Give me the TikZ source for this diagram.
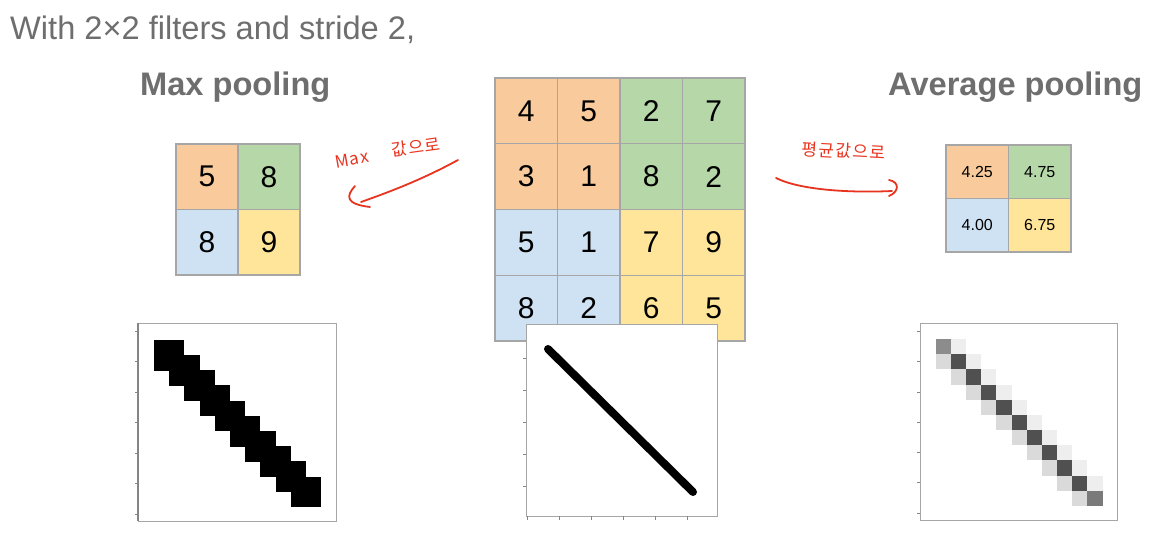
\documentclass[tikz,border=0pt]{standalone}
\usepackage{fontspec}
\setmainfont{Liberation Sans}
\newfontfamily\cjk{Noto Sans CJK KR}[LetterSpace=8]
\definecolor{corange}{HTML}{F9CB9C}
\definecolor{cgreen}{HTML}{B6D7A8}
\definecolor{cblue}{HTML}{CFE2F3}
\definecolor{cyellow}{HTML}{FFE599}
\definecolor{gridgray}{HTML}{A6A6A6}
\definecolor{txtgray}{HTML}{6E6E6E}
\definecolor{pen}{HTML}{E8341F}
\definecolor{pdark}{HTML}{505050}
\definecolor{pmid}{HTML}{8C8C8C}
\definecolor{pend}{HTML}{7A7A7A}
\definecolor{plow}{HTML}{DADADA}
\definecolor{pup}{HTML}{EEEEEE}
\begin{document}
\begin{tikzpicture}[x=1pt,y=-1pt,
  cell/.style={draw=gridgray,line width=1.3pt,inner sep=0pt,font=\fontsize{30}{36}\selectfont},
  bigcell/.style={cell,minimum width=62.5pt,minimum height=65.75pt},
  maxcell/.style={cell,minimum width=62pt,minimum height=65.5pt},
  avgcell/.style={cell,minimum width=62.5pt,minimum height=53.5pt,font=\fontsize{16}{19}\selectfont},
  title/.style={text=txtgray,inner sep=0pt,anchor=base west,font=\fontsize{32.6}{38}\selectfont},
  btitle/.style={title,font=\fontsize{32.6}{38}\selectfont\bfseries},
  frame/.style={draw=gridgray,line width=0.9pt,fill=white},
  tick/.style={draw=gridgray!80!black,line width=0.8pt},
  hand/.style={draw=pen,line width=1.8pt,line cap=round,line join=round},
  handtxt/.style={text=pen,inner sep=0pt,font=\cjk\fontsize{17}{20}\selectfont}]
\useasboundingbox (0,0) rectangle (1163,533);
\fill[white] (0,0) rectangle (1163,533);

% titles
\node[title] (t1) at (10,39) {With 2×2 filters and stride 2,};
\node[btitle] (t2) at (140,95.3) {Max pooling};
\node[btitle] (t3) at (888,95.3) {Average pooling};

% main 4x4 grid
\foreach \r/\c/\v/\f in {0/0/4/corange,0/1/5/corange,0/2/2/cgreen,0/3/7/cgreen,
  1/0/3/corange,1/1/1/corange,1/2/8/cgreen,1/3/2/cgreen,
  2/0/5/cblue,2/1/1/cblue,2/2/7/cyellow,2/3/9/cyellow,
  3/0/8/cblue,3/1/2/cblue,3/2/6/cyellow,3/3/5/cyellow}
  \node[bigcell,fill=\f] (m\r\c) at ({526.25+62.5*\c},{110.875+65.75*\r}) {\v};

% max pooling grid
\foreach \r/\c/\v/\f in {0/0/5/corange,0/1/8/cgreen,1/0/8/cblue,1/1/9/cyellow}
  \node[maxcell,fill=\f] (x\r\c) at ({207+62*\c},{176.75+65.5*\r}) {\v};

% average pooling grid
\foreach \r/\c/\v/\f in {0/0/4.25/corange,0/1/4.75/cgreen,1/0/4.00/cblue,1/1/6.75/cyellow}
  \node[avgcell,fill=\f] (a\r\c) at ({977.25+62.5*\c},{171.75+53.5*\r}) {\v};

% handwritten notes
\node[handtxt,rotate=10] (n1a) at (352,159) {Max};
\node[handtxt,rotate=8] (n1b) at (416,147) {값으로};
\node[handtxt,rotate=-3] (n2) at (844,151) {평균값으로};
\coordinate (l1) at (458,160);
\coordinate (l2) at (361,202);
\draw[hand] (l1) .. controls (425,178) and (395,190) .. (l2);
\draw[hand] (355,186) .. controls (346,196) and (345,204) .. (370,207);
\coordinate (r1) at (776,178);
\coordinate (r2) at (892,191);
\draw[hand] (r1) .. controls (800,190) and (850,193) .. (r2);
\draw[hand] (889,180) .. controls (900,182) and (899,192) .. (889,196);

% left plot (max pooled image)
\draw[frame] (138,323) rectangle (336,521);
\draw[tick,line width=1.2pt] (138,323) -- (138,521);
\foreach \y in {331,361.5,392,422.5,453,483.5,514}
  \draw[tick] (135,\y) -- (138,\y);
\foreach \r in {0,...,10}{
  \pgfmathtruncatemacro{\ca}{max(0,\r-1)}
  \pgfmathtruncatemacro{\cb}{min(10,\r+1)+1}
  \fill[black] ({154+15.2*\ca},{340+15.2*\r-0.2}) rectangle ({154+15.2*\cb},{340+15.2*(\r+1)+0.2});
}

% middle plot (original image)
\draw[frame] (526,324) rectangle (717,516);
\foreach \y in {358,390,422,454,486}
  \draw[tick] (523,\y) -- (526,\y);
\foreach \x in {527,559,591,623,655,687}
  \draw[tick] (\x,516) -- (\x,520);
\draw[line width=8pt,line cap=round] (548,349) -- (693,492);

% right plot (average pooled image)
\draw[frame] (920,323) rectangle (1117,520);
\foreach \y in {331,361.5,392,422,452,482.5,513}
  \draw[tick] (917,\y) -- (920,\y);
\foreach \r in {0,...,9}{
  \fill[pup] ({935.7+15.17*(\r+1)},{339+15.17*\r}) rectangle ++(15.17,15.17);
  \fill[plow] ({935.7+15.17*\r},{339+15.17*(\r+1)}) rectangle ++(15.17,15.17);
}
\foreach \r in {1,...,9}
  \fill[pdark] ({935.7+15.17*\r},{339+15.17*\r}) rectangle ++(15.17,15.17);
\fill[pmid] (935.7,339) rectangle ++(15.17,15.17);
\fill[pend] ({935.7+15.17*10},{339+15.17*10}) rectangle ++(15.17,15.17);
\end{tikzpicture}
\end{document}
